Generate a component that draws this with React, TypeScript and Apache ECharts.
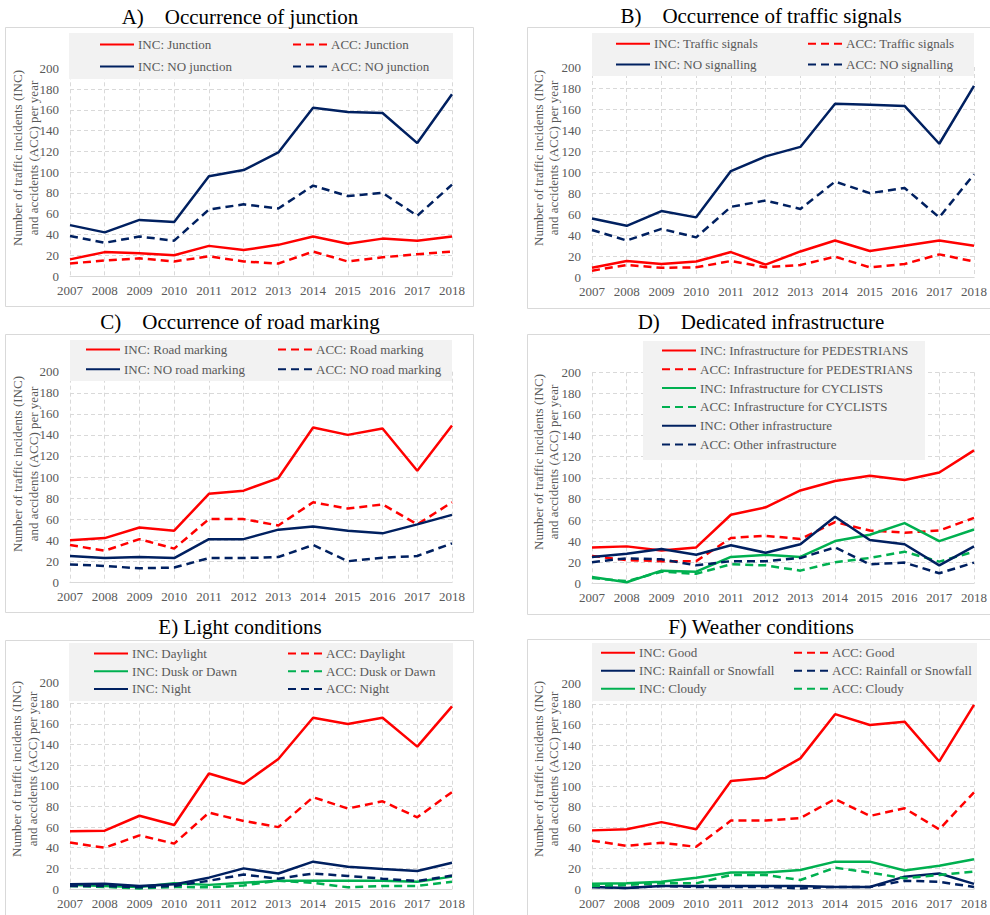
import React, { useEffect, useRef } from 'react';
import * as echarts from 'echarts';

const years = ['2007', '2008', '2009', '2010', '2011', '2012', '2013', '2014', '2015', '2016', '2017', '2018'];

// A) Occurrence of junction
const incJunction = [16, 23, 22, 20, 29, 25, 30, 38, 31, 36, 34, 38];
const accJunction = [12, 15, 17, 14, 19, 14, 12, 23.5, 14, 18, 21, 23.5];
const incNoJunction = [49, 42, 54, 52, 96, 102, 119, 162, 158, 157, 128, 175];
const accNoJunction = [38.5, 32, 38, 34, 64, 69, 65, 87, 77, 80, 58, 88];

// B) Occurrence of traffic signals
const incSignals = [9, 15.5, 12.6, 15, 24, 12, 24.6, 35, 25, 30, 35, 30];
const accSignals = [6.3, 11.7, 9, 9.5, 15.5, 9.5, 11.7, 19.6, 9.5, 12.6, 21.8, 15];
const incNoSignal = [56, 49, 63, 57, 101, 115, 124, 165, 164, 163, 127, 182];
const accNoSignal = [45, 35, 46, 38, 67, 73, 65, 91, 80, 85, 57, 98];

// C) Occurrence of road marking
const incMarking = [40, 42, 52, 49, 84, 87, 99, 147, 140, 146, 106, 149];
const accMarking = [35.4, 30, 41, 32, 60, 60, 54, 76, 70, 74, 55, 76];
const incNoMarking = [25, 23, 24, 23, 41, 41, 50, 53, 49, 46.5, 55, 64];
const accNoMarking = [17, 15.5, 13.3, 14, 23, 23, 24, 35.4, 20, 23.4, 25, 37];

// D) Dedicated infrastructure
const incPed = [34, 35, 31, 34, 65, 72, 88, 97, 102, 98, 105, 126];
const accPed = [26, 22, 21, 21, 43, 45, 42, 58, 50, 48, 50, 62];
const incCyc = [6, 1, 12, 11, 25, 27, 25, 40, 46, 57, 40, 51];
const accCyc = [5, 2, 11, 9, 18, 17, 12, 20, 24, 30, 20.5, 30];
const incOther = [25, 28, 32.5, 27, 36, 29, 37, 63, 41, 37, 17, 35];
const accOther = [20, 23.7, 22.7, 17, 21, 21, 24, 34, 18, 19.6, 9.5, 19.6];

// E) Light conditions
const incDay = [56, 56.5, 71, 62, 112, 102, 126, 166, 160, 166, 138, 177];
const accDay = [45, 40, 52, 44, 74, 66, 60, 89, 78, 85, 69.5, 94];
const incDusk = [4, 3, 2, 5.5, 4, 6, 8, 8, 8, 8, 7, 12];
const accDusk = [3, 2, 0.6, 2, 1.6, 3.5, 8, 6, 1.6, 3, 3, 7];
const incNight = [4.5, 5, 3, 4.5, 11, 20, 15, 26.5, 21.6, 19.4, 17.5, 25.5];
const accNight = [3, 3, 1.6, 3, 8, 14, 10, 15, 12.6, 10, 7.7, 13];

// F) Weather conditions
const incGood = [57, 58, 65, 58, 105, 108, 127, 170, 159.5, 162.7, 124, 179];
const accGood = [47, 42, 45, 41, 66.5, 66.5, 69, 87.5, 71, 78.5, 58, 94];
const incRain = [2, 1, 3, 3, 3, 3, 3, 2, 2, 12, 15, 5];
const accRain = [2, 1, 3, 2, 2, 2, 0.6, 2, 2, 8, 7, 2];
const incCloudy = [5, 5.5, 7, 11, 16, 16, 18.5, 26.6, 26.6, 18, 22.7, 29];
const accCloudy = [3, 4, 5.5, 5.5, 13.6, 13.6, 8.7, 20.7, 16, 10.4, 13.6, 17];

const RED = '#FF0000';
const NAVY = '#002060';
const GREEN = '#00B050';
const GRAY_TXT = '#595959';
const GRID_C = '#D9D9D9';
const FONT = 'Liberation Serif';

type S = { name: string; data: number[]; color: string; dashed: boolean };

const panels = [
  {
    title: 'A)\u00a0\u00a0\u00a0\u00a0Occurrence of junction', tx: 240, ty: 16.7,
    grid: { left: 70, top: 68.3, width: 382, height: 207.7 },
    box: [5, 27, 468, 279], yt: [25.5, 158],
    lbox: [69, 33, 384, 46], rowTop: 38, rowGap: 23,
    cols: [
      { x: 99, items: [0, 2] },
      { x: 292, items: [1, 3] },
    ],
    series: [
      { name: 'INC: Junction', data: incJunction, color: RED, dashed: false },
      { name: 'ACC: Junction', data: accJunction, color: RED, dashed: true },
      { name: 'INC: NO junction', data: incNoJunction, color: NAVY, dashed: false },
      { name: 'ACC: NO junction', data: accNoJunction, color: NAVY, dashed: true },
    ] as S[],
  },
  {
    title: 'B)\u00a0\u00a0\u00a0\u00a0Occurrence of traffic signals', tx: 761, ty: 16,
    grid: { left: 592, top: 67, width: 382, height: 210.3 },
    box: [527, 27, 470, 281], yt: [546, 158],
    lbox: [592, 33, 382, 43], rowTop: 37.3, rowGap: 21.7,
    cols: [
      { x: 615, items: [0, 2] },
      { x: 807, items: [1, 3] },
    ],
    series: [
      { name: 'INC: Traffic signals', data: incSignals, color: RED, dashed: false },
      { name: 'ACC: Traffic signals', data: accSignals, color: RED, dashed: true },
      { name: 'INC: NO signalling', data: incNoSignal, color: NAVY, dashed: false },
      { name: 'ACC: NO signalling', data: accNoSignal, color: NAVY, dashed: true },
    ] as S[],
  },
  {
    title: 'C)\u00a0\u00a0\u00a0\u00a0Occurrence of road marking', tx: 240, ty: 321.7,
    grid: { left: 70, top: 371.7, width: 382, height: 210.6 },
    box: [5, 334, 468, 278], yt: [25.5, 464],
    lbox: [70, 340, 382, 41], rowTop: 343, rowGap: 20.7,
    cols: [
      { x: 85, items: [0, 2] },
      { x: 277, items: [1, 3] },
    ],
    series: [
      { name: 'INC: Road marking', data: incMarking, color: RED, dashed: false },
      { name: 'ACC: Road marking', data: accMarking, color: RED, dashed: true },
      { name: 'INC: NO road marking', data: incNoMarking, color: NAVY, dashed: false },
      { name: 'ACC: NO road marking', data: accNoMarking, color: NAVY, dashed: true },
    ] as S[],
  },
  {
    title: 'D)\u00a0\u00a0\u00a0\u00a0Dedicated infrastructure', tx: 761, ty: 322,
    grid: { left: 592, top: 372.3, width: 382, height: 211 },
    box: [527, 334, 470, 280], yt: [546, 462],
    lbox: [643, 341, 282, 119], rowTop: 344, rowGap: 19.8,
    cols: [{ x: 661, items: [0, 1, 2, 3, 4, 5] }],
    series: [
      { name: 'INC: Infrastructure for PEDESTRIANS', data: incPed, color: RED, dashed: false },
      { name: 'ACC: Infrastructure for PEDESTRIANS', data: accPed, color: RED, dashed: true },
      { name: 'INC: Infrastructure for CYCLISTS', data: incCyc, color: GREEN, dashed: false },
      { name: 'ACC: Infrastructure for CYCLISTS', data: accCyc, color: GREEN, dashed: true },
      { name: 'INC: Other infrastructure', data: incOther, color: NAVY, dashed: false },
      { name: 'ACC: Other infrastructure', data: accOther, color: NAVY, dashed: true },
    ] as S[],
  },
  {
    title: 'E) Light conditions', tx: 240, ty: 627,
    grid: { left: 70, top: 682.7, width: 382, height: 206.3 },
    box: [5, 640, 468, 300], yt: [24.5, 769],
    lbox: [69, 643, 384, 58], rowTop: 647, rowGap: 18.7,
    cols: [
      { x: 93, items: [0, 2, 4] },
      { x: 287, items: [1, 3, 5] },
    ],
    series: [
      { name: 'INC: Daylight', data: incDay, color: RED, dashed: false },
      { name: 'ACC: Daylight', data: accDay, color: RED, dashed: true },
      { name: 'INC: Dusk or Dawn', data: incDusk, color: GREEN, dashed: false },
      { name: 'ACC: Dusk or Dawn', data: accDusk, color: GREEN, dashed: true },
      { name: 'INC: Night', data: incNight, color: NAVY, dashed: false },
      { name: 'ACC: Night', data: accNight, color: NAVY, dashed: true },
    ] as S[],
  },
  {
    title: 'F) Weather conditions', tx: 761, ty: 627,
    grid: { left: 592, top: 683.3, width: 382, height: 205.7 },
    box: [527, 639, 470, 300], yt: [546, 769],
    lbox: [592, 643, 385, 58], rowTop: 646.3, rowGap: 19,
    cols: [
      { x: 600, items: [0, 2, 4] },
      { x: 793, items: [1, 3, 5] },
    ],
    series: [
      { name: 'INC: Good', data: incGood, color: RED, dashed: false },
      { name: 'ACC: Good', data: accGood, color: RED, dashed: true },
      { name: 'INC: Rainfall or Snowfall', data: incRain, color: NAVY, dashed: false },
      { name: 'ACC: Rainfall or Snowfall', data: accRain, color: NAVY, dashed: true },
      { name: 'INC: Cloudy', data: incCloudy, color: GREEN, dashed: false },
      { name: 'ACC: Cloudy', data: accCloudy, color: GREEN, dashed: true },
    ] as S[],
  },
];

const ITEM_H = 14;

function buildOption() {
  const grid: any[] = [];
  const xAxis: any[] = [];
  const yAxis: any[] = [];
  const series: any[] = [];
  const legend: any[] = [];
  const graphic: any[] = [];

  panels.forEach((p, i) => {
    grid.push({ ...p.grid, containLabel: false });
    xAxis.push({
      gridIndex: i,
      type: 'category',
      data: years,
      boundaryGap: false,
      axisLine: { lineStyle: { color: GRID_C, width: 1 } },
      axisTick: { show: false },
      axisLabel: { interval: 0, color: GRAY_TXT, fontSize: 13, fontFamily: FONT, margin: 8 },
      splitLine: { show: true, lineStyle: { color: GRID_C, type: [4, 3], width: 1 } },
    });
    yAxis.push({
      gridIndex: i,
      type: 'value',
      min: 0,
      max: 200,
      interval: 20,
      axisLine: { show: false },
      axisTick: { show: false },
      axisLabel: { color: GRAY_TXT, fontSize: 13, fontFamily: FONT, margin: 11 },
      splitLine: { show: true, lineStyle: { color: GRID_C, type: [4, 3], width: 1 } },
    });
    p.series.forEach((s) => {
      series.push({
        type: 'line',
        name: s.name,
        xAxisIndex: i,
        yAxisIndex: i,
        data: s.data,
        symbol: 'none',
        showSymbol: false,
        z: 5,
        color: s.color,
        lineStyle: { color: s.color, width: 2.5, type: s.dashed ? [8, 5] : 'solid' },
      });
    });
    p.cols.forEach((c) => {
      legend.push({
        orient: 'vertical',
        left: c.x,
        top: p.rowTop,
        padding: 0,
        itemWidth: 34,
        itemHeight: ITEM_H,
        itemGap: p.rowGap - ITEM_H,
        selectedMode: false,
        z: 6,
        itemStyle: { color: 'rgba(0,0,0,0)', borderWidth: 0, opacity: 0 },
        textStyle: { color: GRAY_TXT, fontSize: 13, fontFamily: FONT, padding: [0, 0, 0, -1] },
        data: c.items.map((k) => p.series[k].name),
      });
    });
    // panel border
    graphic.push({
      type: 'rect',
      z: 0,
      silent: true,
      shape: { x: p.box[0] + 0.5, y: p.box[1] + 0.5, width: p.box[2], height: p.box[3] },
      style: { fill: 'none', stroke: GRID_C, lineWidth: 1 },
    });
    // legend background
    graphic.push({
      type: 'rect',
      z: 3,
      silent: true,
      shape: { x: p.lbox[0], y: p.lbox[1], width: p.lbox[2], height: p.lbox[3] },
      style: { fill: '#F2F2F2', stroke: 'none' },
    });
    // title
    graphic.push({
      type: 'text',
      z: 10,
      x: p.tx,
      y: p.ty,
      silent: true,
      style: {
        text: p.title,
        fontSize: 21,
        fontFamily: FONT,
        fill: '#000000',
        align: 'center',
        verticalAlign: 'middle',
      },
    });
    // y-axis title
    graphic.push({
      type: 'text',
      z: 10,
      x: p.yt[0],
      y: p.yt[1],
      rotation: Math.PI / 2,
      silent: true,
      style: {
        text: 'Number of traffic incidents (INC)\nand accidents (ACC) per year',
        fontSize: 13,
        fontFamily: FONT,
        fill: GRAY_TXT,
        align: 'center',
        verticalAlign: 'middle',
        lineHeight: 15.5,
      },
    });
  });

  return {
    animation: false,
    backgroundColor: '#FFFFFF',
    textStyle: { fontFamily: FONT },
    grid,
    xAxis,
    yAxis,
    legend,
    series,
    graphic,
  };
}

export default function App() {
  const ref = useRef<HTMLDivElement>(null);
  useEffect(() => {
    if (!ref.current) return;
    const chart = echarts.init(ref.current, undefined, { renderer: 'svg' });
    chart.setOption(buildOption() as any);
    return () => chart.dispose();
  }, []);
  return (
    <div
      ref={ref}
      style={{ position: 'absolute', left: 0, top: 0, width: 990, height: 915, background: '#fff' }}
    />
  );
}
